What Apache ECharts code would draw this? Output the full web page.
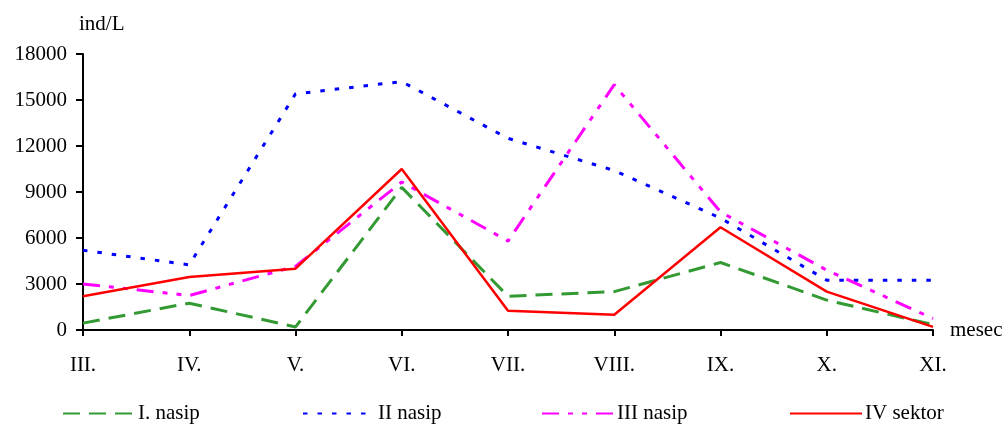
<!DOCTYPE html>
<html>
<head>
<meta charset="utf-8">
<script src="https://cdn.jsdelivr.net/npm/echarts@6/dist/echarts.min.js"></script>
<style>
html,body{margin:0;padding:0;background:#fff;}
#c{width:1008px;height:424px;}
</style>
</head>
<body>
<div id="c"></div>
<script>
const categories = ['III.','IV.','V.','VI.','VII.','VIII.','IX.','X.','XI.'];
const nasip1 = [450, 1750, 200, 9300, 2200, 2500, 4400, 1950, 350];
const nasip2 = [5200, 4250, 15400, 16200, 12500, 10400, 7300, 3250, 3250];
const nasip3 = [3000, 2250, 4150, 9650, 5800, 16000, 7700, 3900, 750];
const sektor4 = [2200, 3450, 4000, 10500, 1250, 1000, 6700, 2500, 200];
const yTicks = [0, 3000, 6000, 9000, 12000, 15000, 18000];

const FONT = 'Liberation Serif';
const chart = echarts.init(document.getElementById('c'));

function mkLegend(name, left){
  return {
    data:[name], left:left, top:398, itemWidth:72, itemHeight:14, itemGap:0,
    itemStyle:{opacity:0},
    textStyle:{fontFamily:FONT, fontSize:21, color:'#000', padding:[0,0,0,-2]}
  };
}

chart.setOption({
  animation:false,
  backgroundColor:'#fff',
  grid:{left:83, right:75, top:54, bottom:94, containLabel:false},
  legend:[
    mkLegend('I. nasip', 57),
    mkLegend('II nasip', 297),
    mkLegend('III nasip', 536),
    mkLegend('IV sektor', 784)
  ],
  xAxis:{
    type:'category', data:categories, boundaryGap:false,
    axisLine:{lineStyle:{color:'#000', width:2}},
    axisTick:{show:true, length:6, lineStyle:{color:'#000', width:2}},
    axisLabel:{fontFamily:FONT, fontSize:21, color:'#000', margin:25},
    splitLine:{show:false},
    name:'mesec', nameLocation:'end', nameGap:17,
    nameTextStyle:{fontFamily:FONT, fontSize:21, color:'#000'}
  },
  yAxis:{
    type:'value', min:yTicks[0], max:yTicks[yTicks.length-1], interval:yTicks[1]-yTicks[0],
    axisLine:{show:true, lineStyle:{color:'#000', width:2}},
    axisTick:{show:true, length:7, lineStyle:{color:'#000', width:2}},
    axisLabel:{fontFamily:FONT, fontSize:21, color:'#000', margin:16, formatter:function(v){return String(v);}},
    splitLine:{show:false},
    name:'ind/L', nameLocation:'end', nameGap:19,
    nameTextStyle:{fontFamily:FONT, fontSize:21, color:'#000', align:'left', padding:[0,0,0,-4]}
  },
  series:[
    {name:'I. nasip', type:'line', data:nasip1, symbol:'none',
     lineStyle:{color:'#339933', width:3, type:[17,9]}, itemStyle:{color:'#339933'}},
    {name:'II nasip', type:'line', data:nasip2, symbol:'none',
     lineStyle:{color:'#0000ff', width:3, type:[4.5,10]}, itemStyle:{color:'#0000ff'}},
    {name:'III nasip', type:'line', data:nasip3, symbol:'none',
     lineStyle:{color:'#ff00ff', width:3, type:[17,9,5,9,5,9]}, itemStyle:{color:'#ff00ff'}},
    {name:'IV sektor', type:'line', data:sektor4, symbol:'none',
     lineStyle:{color:'#ff0000', width:2.5, type:'solid'}, itemStyle:{color:'#ff0000'}}
  ]
});
</script>
</body>
</html>
